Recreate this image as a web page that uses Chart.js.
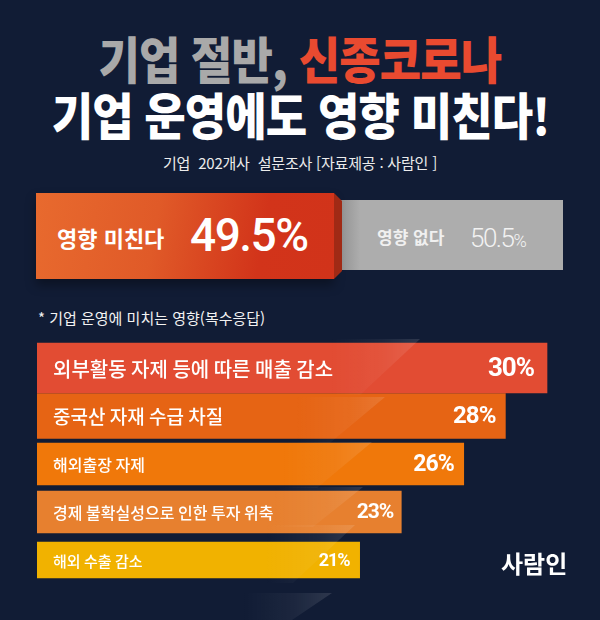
<!DOCTYPE html>
<html lang="ko">
<head>
<meta charset="utf-8">
<script src="https://cdn.jsdelivr.net/npm/chart.js@4"></script>
<style>
  html, body { margin: 0; padding: 0; }
  body {
    width: 600px; height: 620px; overflow: hidden; position: relative;
    background: #111c35;
    font-family: "Noto Sans CJK KR", "Noto Sans", sans-serif;
  }
  .abs { position: absolute; white-space: nowrap; }
  .title { left: 0; width: 600px; text-align: center; font-size: 50px; font-weight: 900; line-height: 50px; letter-spacing: -1px; }
  .title span.inner { display: inline-block; }
  #t1 { top: 32px; color: #a9a9a9; }
  #t1 .red { color: #e94a30; }
  #t2 { top: 88px; color: #ffffff; }
  #sub { top: 155px; left: 0; width: 600px; text-align: center; font-size: 15px; line-height: 15px; color: #ececec; letter-spacing: -0.2px; }
  #yesBox {
    left: 36px; top: 193px; width: 298px; height: 86px;
    background: linear-gradient(100deg, #e86a2e 0%, #e05a28 40%, #d2341a 75%, #d1331a 100%);
    box-shadow: 0 6px 10px rgba(0,0,0,0.35);
    z-index: 3;
  }
  #yesSide {
    left: 334px; top: 193px; width: 8px; height: 86px; background: #a02a15; z-index: 3;
    clip-path: polygon(0 0, 100% 8px, 100% 78px, 0 100%);
  }
  #noBox {
    left: 338px; top: 200px; width: 225px; height: 70px;
    background: linear-gradient(90deg, #8f8f8f 0px, #adadad 22px, #adadad 100%);
    z-index: 2;
  }
  .boxText { line-height: 1; }
  #yesLabel { left: 57px; top: 226px; font-size: 22px; font-weight: 700; color: #fff; letter-spacing: 0; z-index: 4; }
  #yesValue { left: 190px; top: 212px; font-family: Roboto, "Noto Sans", sans-serif; font-size: 46px; font-weight: 500; color: #fff; letter-spacing: -1.5px; z-index: 4; }
  #noLabel { left: 377px; top: 228px; font-size: 17px; font-weight: 700; color: #f0f0f0; letter-spacing: 0; z-index: 4; }
  #noValue { left: 470px; top: 225px; font-family: Roboto, "Noto Sans", sans-serif; font-size: 26px; font-weight: 300; color: #f2f2f2; letter-spacing: -1.5px; z-index: 4; }
  #noValue small { font-size: 18px; letter-spacing: 0; }
  #note { left: 38px; top: 310px; font-size: 15px; line-height: 15px; color: #f2f2f2; letter-spacing: 0; }
  #logo { left: 501px; top: 551px; font-size: 24px; line-height: 24px; font-weight: 700; color: #fff; letter-spacing: 0px; }
  #chartWrap { position: absolute; left: 0; top: 330px; width: 600px; height: 270px; }
  .streak { position: absolute; pointer-events: none; z-index: 5; }
</style>
</head>
<body>

<div id="t1" class="abs title"><span class="inner" style="transform: scaleX(0.9);">기업 절반, <span class="red">신종코로나</span></span></div>
<div id="t2" class="abs title"><span class="inner" style="transform: scaleX(0.9);">기업 운영에도 영향 미친다!</span></div>
<div id="sub" class="abs">기업&nbsp; 202개사&nbsp; 설문조사 [자료제공 : 사람인 ]</div>

<div id="yesBox" class="abs"></div>
<div id="yesSide" class="abs"></div>
<div id="noBox" class="abs"></div>
<div id="yesLabel" class="abs boxText"></div>
<div id="yesValue" class="abs boxText"></div>
<div id="noLabel" class="abs boxText"></div>
<div id="noValue" class="abs boxText"></div>

<div id="note" class="abs">* 기업 운영에 미치는 영향(복수응답)</div>

<div id="chartWrap"><canvas id="impactChart" width="600" height="270"></canvas></div>

<div id="logo" class="abs">사람인</div>

<script>
// Survey data (사람인, 기업 202개사)
const splitLabels = ['영향 미친다', '영향 없다'];
const splitValues = [49.5, 50.5];

const impactLabels = [
    '외부활동 자제 등에 따른 매출 감소',
    '중국산 자재 수급 차질',
    '해외출장 자제',
    '경제 불확실성으로 인한 투자 위축',
    '해외 수출 감소'
];
const impactValues = [30, 28, 26, 23, 21];

// Look of each bar
const barColors = ['#e24c33', '#e66414', '#f0780a', '#e7802f', '#f1b200'];
const barThick = [50, 45, 42, 42, 36];
const labelSize = [20, 19, 16, 16, 15];
const valueSize = [26, 24, 23, 21, 18];
const valuePad = [13, 10, 10, 8, 10];

// top split boxes
document.getElementById('yesLabel').textContent = splitLabels[0];
document.getElementById('yesValue').textContent = splitValues[0].toFixed(1) + '%';
document.getElementById('noLabel').textContent = splitLabels[1];
document.getElementById('noValue').innerHTML = splitValues[1].toFixed(1) + '<small>%</small>';

// one dataset per bar so every bar can get its own thickness
const datasets = impactValues.map(function(v, i) {
    const row = impactValues.map(function(_, j) { return j === i ? v : null; });
    return {
        data: row,
        backgroundColor: barColors[i],
        borderWidth: 0,
        barThickness: barThick[i],
        grouped: false,
        clip: { left: 0, top: 10, right: 10, bottom: 10 }
    };
});

// draws category name and value inside each bar
const barText = {
    id: 'barText',
    afterDatasetsDraw: function(chart) {
        const ctx = chart.ctx;
        const left = chart.chartArea.left;
        chart.data.datasets.forEach(function(ds, i) {
            const bar = chart.getDatasetMeta(i).data[i];
            if (!bar) return;
            ctx.save();
            ctx.fillStyle = '#ffffff';
            ctx.textBaseline = 'middle';

            ctx.font = '500 ' + labelSize[i] + 'px "Noto Sans CJK KR", sans-serif';
            ctx.textAlign = 'left';
            ctx.fillText(impactLabels[i], left + 16, bar.y + 1);

            ctx.font = 'bold ' + valueSize[i] + 'px Roboto, "Noto Sans", sans-serif';
            ctx.textAlign = 'right';
            ctx.letterSpacing = '-1px';
            ctx.fillText(impactValues[i] + '%', bar.x - valuePad[i], bar.y + 1);
            ctx.restore();
        });
    }
};

document.addEventListener('DOMContentLoaded', function() {
    new Chart(document.getElementById('impactChart'), {
        type: 'bar',
        data: {
            labels: impactLabels,
            datasets: datasets
        },
        options: {
            indexAxis: 'y',
            responsive: false,
            animation: false,
            layout: {
                padding: { left: 37, right: 53, top: 14, bottom: 16 }
            },
            plugins: {
                legend: { display: false },
                tooltip: { enabled: false }
            },
            scales: {
                x: { type: 'linear', min: 5.5, max: 30, display: false },
                y: { type: 'category', display: false, offset: true }
            }
        },
        plugins: [barText]
    });

    // faint light streak across the bars
    const streaks = [
        [339, 56, 420, 60],
        [397, 46, 385, 55],
        [442, 46, 372, 55],
        [487, 40, 363, 50],
        [525, 58, 355, 62],
        [593, 27, 332, 40]
    ];
    streaks.forEach(function(s) {
        const d = document.createElement('div');
        d.className = 'streak';
        const w = 90, h = s[1], right = s[2], slant = s[3];
        d.style.left = (right - w) + 'px';
        d.style.top = s[0] + 'px';
        d.style.width = w + 'px';
        d.style.height = h + 'px';
        d.style.background = 'linear-gradient(90deg, rgba(255,255,255,0) 0%, rgba(255,255,255,0.05) 60%, rgba(255,255,255,0.12) 100%)';
        d.style.clipPath = 'polygon(0 0, 100% 0, ' + (w - slant) + 'px 100%, 0 100%)';
        document.body.appendChild(d);
    });
});
</script>
</body>
</html>
